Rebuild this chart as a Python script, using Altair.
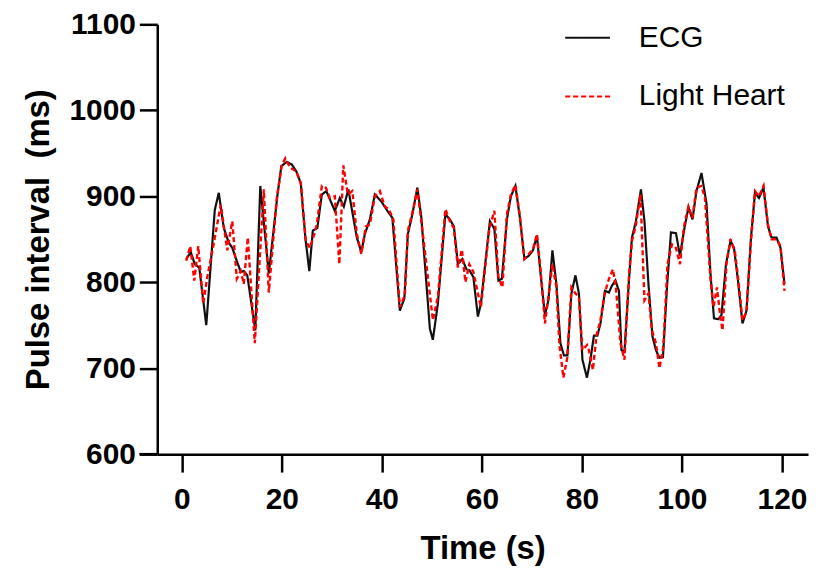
import altair as alt
import pandas as pd

# ECG series (time s, pulse interval ms)
ecg_t = [0.9, 1.8, 2.6, 3.5, 4.9, 6.6, 7.4, 8.4, 9.4, 10.1, 11.1, 11.8, 12.4, 13.1, 14.7, 15.7,
         17.4, 19.1, 19.9, 21.0, 22.0, 22.9, 23.8, 24.7, 25.5, 26.2, 27.1, 28.0, 28.9, 30.6,
         31.6, 32.4, 33.3, 35.0, 35.9, 36.6, 37.6, 38.6, 39.9, 41.1, 42.1, 43.6, 44.5, 45.2,
         46.1, 47.1, 47.9, 49.6, 50.2, 51.2, 52.7, 53.6, 54.4, 55.2, 56.1, 56.9, 57.5, 58.3,
         59.2, 59.8, 61.6, 62.5, 63.3, 64.0, 65.0, 65.8, 66.7, 67.6, 68.5, 69.4, 70.2, 71.0,
         71.8, 72.6, 73.3, 74.1, 74.9, 75.7, 76.4, 77.1, 77.9, 78.7, 79.4, 80.1, 81.0, 81.7,
         82.4, 83.1, 83.7, 84.6, 85.4, 86.0, 86.7, 87.4, 87.9, 88.5, 89.4, 90.0, 90.8, 91.8,
         92.5, 93.3, 94.1, 94.8, 95.5, 96.2, 97.0, 97.8, 98.8, 99.6, 100.5, 101.3, 102.1,
         102.9, 103.9, 104.9, 105.7, 106.4, 107.3, 107.9, 108.8, 109.7, 110.4, 111.2, 112.1,
         112.9, 113.8, 114.6, 115.4, 116.3, 117.2, 117.9, 118.9, 119.7, 120.5]
ecg_v = [827, 835, 821, 817, 750, 884, 904, 863, 846, 840, 823, 812, 813, 808, 744, 912,
         810, 900, 935, 940, 937, 929, 915, 852, 813, 860, 863, 902, 906, 883,
         898, 888, 908, 852, 835, 856, 873, 902, 894, 883, 875, 767, 781, 856,
         879, 910, 875, 746, 733, 775, 879, 873, 865, 821, 827, 815, 814, 806,
         760, 775, 871, 862, 802, 804, 873, 900, 912, 875, 827, 831, 837, 854,
         806, 762, 779, 837, 798, 729, 715, 715, 787, 808, 787, 710, 689, 710,
         738, 738, 752, 790, 788, 796, 802, 790, 721, 719, 802, 852, 871, 908,
         871, 798, 737, 721, 712, 713, 794, 858, 857, 831, 863, 887, 873,
         906, 927, 892, 810, 758, 757, 762, 821, 848, 840, 802, 752,
         767, 852, 904, 898, 910, 865, 852, 852, 840, 798]

# Light Heart series
lh_t = [0.9, 1.7, 2.5, 3.3, 4.3, 5.1, 6.3, 7.8, 9.1, 10.1, 11.0, 11.8, 12.4, 13.2, 14.6,
        16.4, 17.4, 19.0, 20.0, 20.7, 21.7, 22.9, 23.8, 24.8, 25.6, 26.3, 27.0, 28.0, 28.8,
        29.6, 30.6, 31.5, 32.3, 33.2, 34.1, 35.0, 35.9, 36.8, 37.6, 38.6, 39.6, 40.6, 41.4,
        42.3, 43.6, 44.6, 45.2, 46.2, 47.1, 47.9, 49.2, 50.2, 51.2, 52.7, 53.6, 54.4, 55.2,
        56.0, 56.7, 57.5, 58.3, 59.2, 59.8, 61.5, 62.5, 63.3, 64.1, 65.0, 65.8, 66.7, 67.6,
        68.5, 69.4, 70.2, 71.0, 71.8, 72.6, 73.3, 74.1, 74.9, 75.5, 76.3, 77.1, 77.9, 78.7,
        79.4, 80.1, 81.0, 81.4, 82.2, 82.9, 83.7, 84.6, 85.4, 86.2, 86.8, 87.7, 88.5, 89.4,
        90.0, 90.8, 91.7, 92.5, 93.3, 94.0, 94.8, 95.5, 96.3, 97.1, 98.0, 98.8, 99.6, 100.4,
        101.3, 102.1, 102.9, 103.9, 104.6, 105.7, 106.3, 107.0, 107.6, 108.1, 108.9, 109.7,
        110.6, 111.2, 112.1, 112.9, 113.8, 114.6, 115.4, 116.3, 117.2, 117.9, 118.9, 119.7,
        120.5]
lh_v = [825, 842, 802, 842, 775, 806, 842, 890, 837, 871, 804, 813, 798, 852, 729,
        908, 788, 898, 936, 944, 933, 929, 915, 848, 840, 852, 867, 912, 910,
        898, 900, 821, 936, 902, 906, 856, 833, 865, 867, 900, 906, 888, 885,
        873, 771, 785, 860, 883, 908, 871, 806, 756, 783, 885, 871, 863, 817,
        838, 800, 821, 812, 787, 771, 863, 883, 806, 794, 879, 902, 913, 877,
        827, 833, 838, 856, 810, 752, 783, 821, 794, 727, 689, 713, 794, 787,
        783, 721, 727, 721, 698, 738, 756, 788, 804, 815, 794, 729, 710, 806,
        848, 867, 902, 779, 787, 744, 729, 700, 725, 821, 844, 840, 821, 865,
        888, 875, 910, 912, 898, 804, 771, 794, 763, 744, 821, 850,
        835, 806, 756, 765, 848, 906, 900, 912, 867, 850, 850, 842,
        790]

series_names = ["ECG", "Light Heart"]
x_ticks = [0, 20, 40, 60, 80, 100, 120]
y_ticks = [600, 700, 800, 900, 1000, 1100]

ecg_df = pd.DataFrame({"t": ecg_t, "v": ecg_v, "series": series_names[0], "i": range(len(ecg_t))})
lh_df = pd.DataFrame({"t": lh_t, "v": lh_v, "series": series_names[1], "i": range(len(lh_t))})

W, H = 654, 432
FONT = "Liberation Sans"

x_enc = alt.X("t:Q", scale=alt.Scale(domain=[-4.9, 125.2], nice=False, zero=False),
              axis=alt.Axis(values=x_ticks, format="d", title="Time (s)",
                            labelPadding=13, titlePadding=18))
y_enc = alt.Y("v:Q", scale=alt.Scale(domain=[600, 1100], nice=False, zero=False),
              axis=alt.Axis(values=y_ticks, format="d", title="Pulse interval\u00a0 (ms)",
                            labelPadding=4, titlePadding=14))
color_enc = alt.Color("series:N",
                      scale=alt.Scale(domain=series_names, range=["#111111", "#ff0000"]),
                      legend=alt.Legend(title=None, orient="none", legendX=409, legendY=-10,
                                        symbolType="stroke", symbolSize=2025,
                                        symbolStrokeWidth=2, labelFontSize=30,
                                        labelFont=FONT, labelOffset=28, rowPadding=20,
                                        labelColor="black"))
dash_enc = alt.StrokeDash("series:N",
                          scale=alt.Scale(domain=series_names, range=[[1, 0], [5, 3]]),
                          legend=None)

ecg_line = alt.Chart(ecg_df).mark_line(strokeWidth=2.2).encode(
    x=x_enc, y=y_enc, color=color_enc, strokeDash=dash_enc, order="i:Q")
lh_line = alt.Chart(lh_df).mark_line(strokeWidth=2.4).encode(
    x=x_enc, y=y_enc, color=color_enc, strokeDash=dash_enc, order="i:Q")

axis_ext = alt.Chart(pd.DataFrame({"a": [0]})).mark_rule(
    color="black", strokeWidth=2.5, clip=False).encode(
    x=alt.value(-18), x2=alt.value(0), y=alt.value(H))

chart = alt.layer(ecg_line, lh_line, axis_ext).properties(
    width=W, height=H,
    autosize=alt.AutoSizeParams(type="none"),
    padding={"left": 150, "top": 15, "right": 3, "bottom": 114},
).configure_view(stroke=None).configure_axis(
    grid=False, domainColor="black", domainWidth=2.5, tickColor="black", tickWidth=2.5,
    tickSize=18, labelFont=FONT, labelFontWeight="bold", labelFontSize=30,
    labelColor="black", titleFont=FONT, titleFontWeight="bold", titleFontSize=33,
    titleColor="black"
)

chart.save("out.html", embed_options={"renderer": "svg", "actions": False})
